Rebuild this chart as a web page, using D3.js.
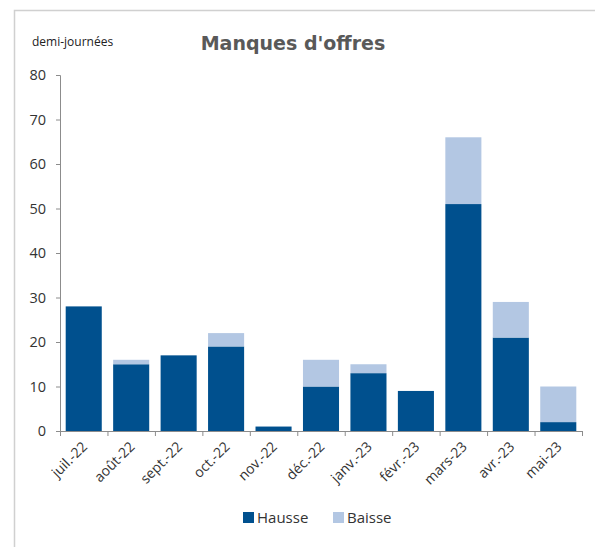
<!DOCTYPE html>
<html><head><meta charset="utf-8">
<script src="https://cdn.jsdelivr.net/npm/d3@7"></script>
<style>body{margin:0;background:#fff}svg{display:block}</style>
</head><body>
<svg id="c" width="595" height="547"></svg>
<script>
const categories = ["juil.-22","août-22","sept.-22","oct.-22","nov.-22","déc.-22","janv.-23","févr.-23","mars-23","avr.-23","mai-23"];
const hausse = [28,15,17,19,1,10,13,9,51,21,2];
const baisse = [0,1,0,3,0,6,2,0,15,8,8];
const seriesNames = ["Hausse","Baisse"];
const yTicks = [0,10,20,30,40,50,60,70,80];
const colors = ["#00508E","#B3C7E3"];

const svg = d3.select("#c");
const font = "'Open Sans', sans-serif";
// frame
svg.append("path").attr("d","M14.5,547 V10.5 H595").attr("fill","none").attr("stroke","#d0d0d0").attr("stroke-width",1.5);

const x0 = 60, x1 = 582, yTop = 75, yBot = 431;
const x = d3.scaleBand().domain(categories).range([x0,x1]).paddingInner(0.24).paddingOuter(0.12);
const y = d3.scaleLinear().domain([0,80]).range([yBot,yTop]);

const data = categories.map((c,i)=>({cat:c,Hausse:hausse[i],Baisse:baisse[i]}));
const stack = d3.stack().keys(seriesNames)(data);

svg.append("g").selectAll("g").data(stack).join("g").attr("fill",(d,i)=>colors[i])
  .selectAll("rect").data(d=>d).join("rect")
  .attr("x",d=>x(d.data.cat)).attr("width",x.bandwidth())
  .attr("y",d=>y(d[1])).attr("height",d=>y(d[0])-y(d[1]));

// y axis
const ya = svg.append("g").attr("transform",`translate(${x0},0)`)
  .call(d3.axisLeft(y).tickValues(yTicks).tickSize(4).tickPadding(10));
ya.select(".domain").attr("stroke","#8c8c8c").attr("d",`M-4,${yTop+0.5}H0.5V${yBot+0.5}H-4`);
ya.selectAll(".tick line").attr("stroke","#8c8c8c");
ya.selectAll(".tick text").attr("font-family",font).attr("font-size",14.5).attr("fill","#333");

// x axis
const xa = svg.append("g").attr("transform",`translate(0,${yBot})`);
xa.append("line").attr("x1",x0).attr("x2",x1).attr("y1",0.5).attr("y2",0.5).attr("stroke","#8c8c8c");
const bounds = d3.range(categories.length+1).map(i=>x0 + i*(x1-x0)/categories.length);
xa.selectAll("line.t").data(bounds).join("line").attr("class","t")
  .attr("x1",d=>d+0.5).attr("x2",d=>d+0.5).attr("y1",0).attr("y2",5).attr("stroke","#8c8c8c");
xa.selectAll("text").data(categories).join("text")
  .attr("transform",d=>`translate(${x(d)+x.bandwidth()/2+1},13) rotate(-45)`)
  .attr("text-anchor","end").attr("dy","0.35em")
  .attr("font-family",font).attr("font-size",14).attr("fill","#333").text(d=>d);

// title
svg.append("text").attr("x",293).attr("y",50).attr("text-anchor","middle")
  .attr("font-family","'DejaVu Sans', sans-serif").attr("font-weight","bold").attr("font-size",19)
  .attr("fill","#595959").text("Manques d'offres");
svg.append("text").attr("x",32).attr("y",46).attr("font-family",font).attr("font-size",12).attr("fill","#222").text("demi-journées");

// legend
const leg = svg.append("g").attr("transform","translate(243,510)");
const lx = [0,90];
seriesNames.forEach((s,i)=>{
  leg.append("rect").attr("x",lx[i]).attr("y",2).attr("width",11).attr("height",11).attr("fill",colors[i]);
  leg.append("text").attr("x",lx[i]+14).attr("y",13).attr("font-family",font).attr("font-size",15).attr("fill","#333").text(s);
});
</script>
</body></html>
